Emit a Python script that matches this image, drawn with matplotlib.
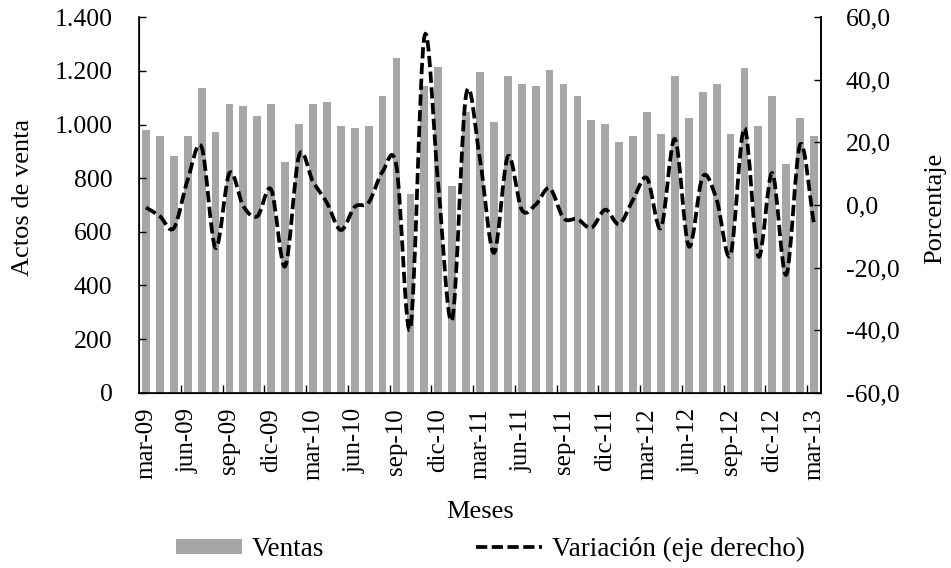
import matplotlib
matplotlib.use("Agg")
import matplotlib.pyplot as plt
from matplotlib.path import Path
from matplotlib.patches import PathPatch, Patch
from matplotlib.lines import Line2D
from matplotlib.ticker import FuncFormatter, FixedLocator
import numpy as np

plt.rcParams['font.family'] = ['Liberation Serif', 'DejaVu Serif']

meses_etiquetas = ["mar-09", "jun-09", "sep-09", "dic-09", "mar-10", "jun-10",
                   "sep-10", "dic-10", "mar-11", "jun-11", "sep-11", "dic-11",
                   "mar-12", "jun-12", "sep-12", "dic-12", "mar-13"]

ventas = [980, 957, 883, 957, 1135, 972, 1076, 1068, 1031, 1076,
          859, 1001, 1076, 1083, 994, 986, 994, 1106, 1247, 742,
          1142, 1216, 771, 1045, 1195, 1008, 1180, 1150, 1143, 1202,
          1150, 1106, 1016, 1001, 934, 956, 1046, 964, 1180, 1023,
          1120, 1150, 964, 1210, 994, 1106, 852, 1023, 956]

variacion = [-0.8, -3.6, -7.4, 8.1, 18.5, -13.7, 10.2, -0.4, -3.6, 4.9,
             -19.6, 15.8, 7.5, 0.7, -8.0, -0.6, 0.8, 10.7, 12.3, -39.3,
             53.7, 6.5, -36.6, 35.2, 14.5, -15.3, 15.5, -1.5, 0.1, 5.4,
             -4.2, -4.5, -7.3, -1.5, -6.1, 1.7, 8.6, -7.3, 21.1, -13.2,
             9.1, 1.7, -15.9, 24.6, -16.4, 10.2, -22.3, 19.3, -6.1]

W, H = 951, 568
fig = plt.figure(figsize=(W / 100, H / 100), dpi=100)
left, right, top, bottom = 139, 821, 17.3, 392.7
ax = fig.add_axes([left / W, 1 - bottom / H, (right - left) / W, (bottom - top) / H])

x = np.arange(len(ventas))
bar_color = "#A6A6A6"
ax.bar(x, ventas, width=0.56, color=bar_color, zorder=1)
ax.set_xlim(-0.5, len(ventas) - 0.5)
ax.set_ylim(0, 1400)
ax.set_yticks(np.arange(0, 1401, 200))
ax.yaxis.set_major_formatter(FuncFormatter(lambda v, p: f"{int(v):,}".replace(",", ".")))

# x labels every 3 months, ticks between categories
ax.set_xticks(x[::3])
ax.set_xticklabels(meses_etiquetas, rotation=90)
ax.xaxis.set_minor_locator(FixedLocator(np.arange(2.5, len(ventas) - 1, 3)))
ax.tick_params(axis='x', which='major', length=0, pad=11, labelsize=18)
ax.tick_params(axis='x', which='minor', direction='in', length=5.5, width=1)
ax.tick_params(axis='y', direction='in', length=5, width=1, pad=19, labelsize=18.5)

for s in ['left', 'bottom', 'right']:
    ax.spines[s].set_linewidth(1.2)
ax.spines['top'].set_visible(False)

ax2 = ax.twinx()
ax2.set_ylim(-60, 60)
ax2.set_yticks(np.arange(-60, 61, 20))
ax2.yaxis.set_major_formatter(FuncFormatter(lambda v, p: f"{v:.1f}".replace(".", ",")))
ax2.tick_params(axis='y', direction='in', length=5, width=1, pad=18, labelsize=18.5)
ax2.spines['top'].set_visible(False)
ax2.spines['right'].set_linewidth(1.2)

# smoothed (Catmull-Rom style Bezier) line through the data points
px = x.astype(float)
py = np.array(variacion, dtype=float)
n = len(px)
mx = np.empty(n); my = np.empty(n)
mx[1:-1] = (px[2:] - px[:-2]) / 2; my[1:-1] = (py[2:] - py[:-2]) / 2
mx[0] = px[1] - px[0]; my[0] = py[1] - py[0]
mx[-1] = px[-1] - px[-2]; my[-1] = py[-1] - py[-2]
verts = [(px[0], py[0])]
codes = [Path.MOVETO]
for i in range(n - 1):
    verts += [(px[i] + mx[i] / 3, py[i] + my[i] / 3),
              (px[i + 1] - mx[i + 1] / 3, py[i + 1] - my[i + 1] / 3),
              (px[i + 1], py[i + 1])]
    codes += [Path.CURVE4] * 3
dash = (0, (3.0, 1.2))
lw = 2.7
ax2.add_patch(PathPatch(Path(verts, codes), fill=False, edgecolor='black',
                        linewidth=lw, linestyle=dash, capstyle='butt', zorder=3))

ax.set_ylabel("Actos de venta", fontsize=19, va='center')
ax.yaxis.set_label_coords((23 - left) / (right - left), 0.52)
ax2.set_ylabel("Porcentaje", fontsize=19, va='center', rotation=90)
ax2.yaxis.set_label_coords((935 - left) / (right - left), 0.49)
ax.set_xlabel("Meses", fontsize=19, va='center')
ax.xaxis.set_label_coords(0.5, (bottom - 512) / (bottom - top))

handles = [Patch(facecolor=bar_color, edgecolor='none'),
           Line2D([], [], color='black', linewidth=lw, linestyle=dash)]
fig.legend(handles, ["Ventas", "Variación (eje derecho)"], ncol=2,
           loc='center left', bbox_to_anchor=(176 / W, 1 - 549.5 / H),
           frameon=False, fontsize=19.5, borderpad=0, borderaxespad=0,
           handlelength=2.45, handleheight=0.5, handletextpad=0.35, columnspacing=5.6)

fig.savefig("out.png", dpi=100)
